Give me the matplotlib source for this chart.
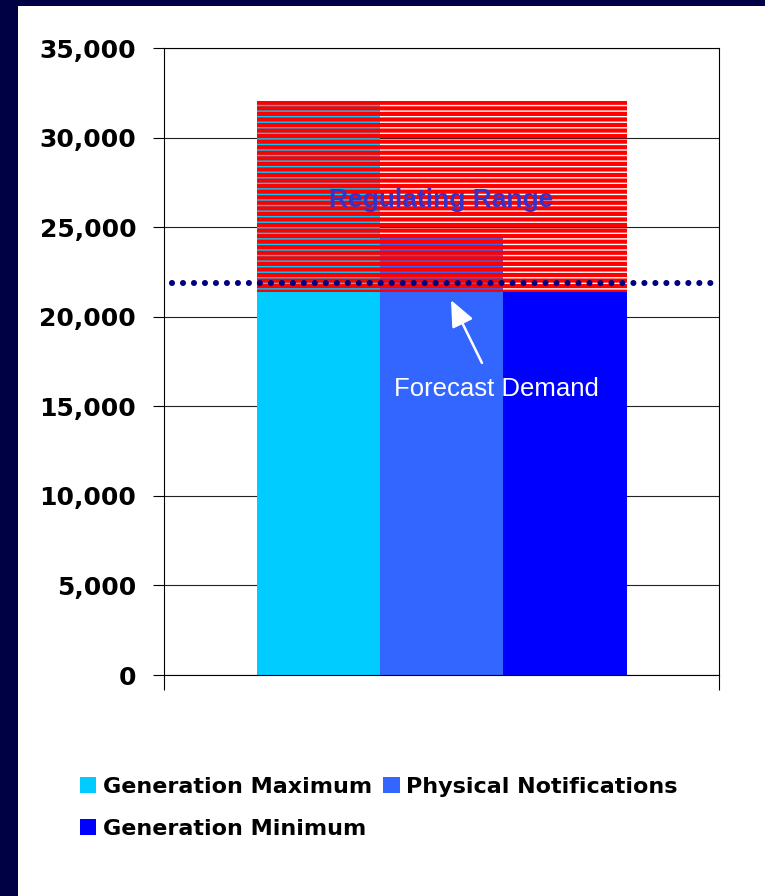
import matplotlib
matplotlib.use('Agg')
import matplotlib.pyplot as plt
from matplotlib.patches import Rectangle
from matplotlib.ticker import FuncFormatter

# chart values
categories = ['Generation Maximum', 'Physical Notifications', 'Generation Minimum']
values = [32050, 24550, 21400]
colors = ['#00CCFF', '#3366FF', '#0000FF']
forecast_demand = 21870
y_ticks = [0, 5000, 10000, 15000, 20000, 25000, 30000, 35000]

plt.rcParams['hatch.linewidth'] = 3.0
plt.rcParams['lines.scale_dashes'] = False

fig = plt.figure(figsize=(7.65, 8.96), dpi=100)
fig.patch.set_facecolor('white')

# navy frame strips at left and top
fig.add_artist(Rectangle((0, 0), 18 / 765, 1, transform=fig.transFigure,
                         facecolor='#000044', edgecolor='none'))
fig.add_artist(Rectangle((0, 1 - 6 / 896), 1, 6 / 896, transform=fig.transFigure,
                         facecolor='#000044', edgecolor='none'))

ax = fig.add_axes([164 / 765, 1 - 675 / 896, 555 / 765, 627 / 896])

# the three bars side by side
x = list(range(len(categories)))
bars = ax.bar(x, values, width=1.0, color=colors, zorder=2)

# regulating range: from generation minimum up to generation maximum
reg_low = min(values)
reg_high = max(values)
ax.bar(1, reg_high - reg_low, width=3.0, bottom=reg_low, facecolor='none',
       edgecolor='#FF0000', hatch='---', linewidth=0, zorder=3)

# forecast demand dotted line
ax.axhline(forecast_demand, xmin=0.014, xmax=1.0, color='#000080', lw=4.4,
           linestyle=(0, (0.01, 7.9)), dash_capstyle='round', zorder=4,
           clip_on=False)

ax.text(1.0, 26140, 'Regulating Range', color='#3333CC', fontsize=19,
        fontweight='bold', family='Liberation Sans', ha='center',
        va='baseline', zorder=5)
ax.text(1.443, 15575, 'Forecast Demand', color='white', fontsize=18.5,
        family='Liberation Sans', ha='center', va='baseline', zorder=5)
ax.annotate('', xy=(1.077, 20930), xytext=(1.328, 17420),
            arrowprops=dict(arrowstyle='-|>,head_length=0.8,head_width=0.35',
                            color='white', lw=1.8, mutation_scale=20,
                            shrinkA=0, shrinkB=0), zorder=5)

ax.set_xlim(-1.25, 3.25)
ax.set_ylim(0, 35000)
ax.set_yticks(y_ticks)
ax.yaxis.set_major_formatter(FuncFormatter(lambda v, p: f'{int(v):,}'))
ax.set_xticks([-1.25, 3.25])
ax.set_xticklabels(['', ''])
ax.tick_params(axis='x', direction='out', length=11, width=0.8)
ax.tick_params(axis='y', direction='out', length=8, width=0.8, pad=12,
               labelsize=18)
for lab in ax.get_yticklabels():
    lab.set_fontweight('bold')

ax.grid(axis='y', color='#222222', linewidth=0.8, zorder=0)
ax.set_axisbelow(True)
for sp in ax.spines.values():
    sp.set_linewidth(0.8)
    sp.set_color('black')

# legend: column order so that Physical Notifications sits top right
order = [0, 2, 1]
leg = fig.legend([bars[i] for i in order], [categories[i] for i in order],
                 loc='upper left', bbox_to_anchor=(80 / 765, 1 - 777 / 896),
                 ncol=2, frameon=False, borderpad=0, borderaxespad=0,
                 handlelength=0.74, handleheight=0.74, handletextpad=0.3,
                 columnspacing=0.5, labelspacing=0.98,
                 prop={'weight': 'bold', 'size': 16})

fig.savefig('out.png', dpi=100, facecolor='white')
